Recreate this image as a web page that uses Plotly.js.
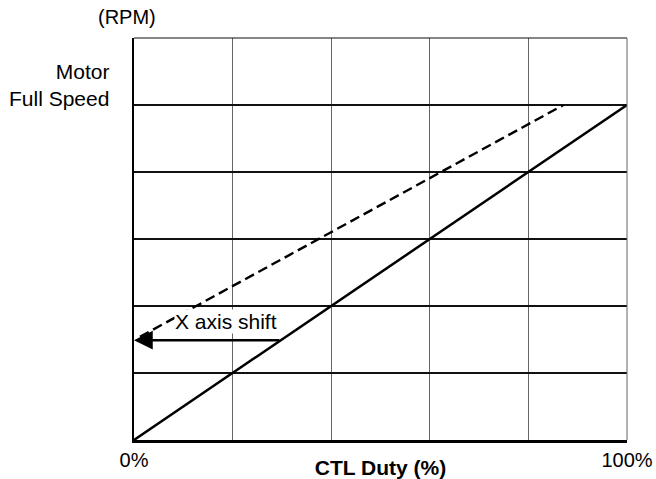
<!DOCTYPE html>
<html>
<head>
<meta charset="utf-8">
<script src="https://cdn.plot.ly/plotly-3.0.1.min.js"></script>
<style>html,body{margin:0;padding:0;background:#fff;}#chart{width:656px;height:479px;}</style>
</head>
<body>
<div id="chart"></div>
<script>
// Data
const xTicks = [0, 20, 40, 60, 80, 100];
const xTickText = ['0%', '', '', '', '', '100%'];
const yTicks = [0, 1, 2, 3, 4, 5, 6];
const fullSpeed = 5;

const solidX = [0, 100];
const solidY = [0, 5];

const dashedX = [1.2, 87.1];
const dashedY = [1.54, 5];

const shiftY = 1.49;
const shiftFrom = 29.8;
const shiftTo = 0;
const shiftLabel = 'X axis shift';
const shiftLabelPos = [18.7, 1.77];

const FONT = 'Liberation Sans, Arial, Helvetica, sans-serif';

const traces = [
  {x: solidX, y: solidY, mode: 'lines', line: {color: '#000', width: 2.5}, hoverinfo: 'skip'},
  {x: dashedX, y: dashedY, mode: 'lines', line: {color: '#000', width: 2.4, dash: '10px,5px'}, hoverinfo: 'skip'}
];

const layout = {
  width: 656, height: 479,
  margin: {l: 134, r: 29, t: 38, b: 39},
  paper_bgcolor: '#fff', plot_bgcolor: '#fff',
  showlegend: false,
  font: {family: FONT, size: 20, color: '#000'},
  xaxis: {
    range: [0, 100], tickvals: xTicks, ticktext: xTickText,
    showgrid: true, gridcolor: '#666', gridwidth: 1,
    zeroline: false, showline: true, linecolor: '#000', linewidth: 2.5,
    ticks: '', tickfont: {size: 20, family: FONT},
    title: {text: '<b>CTL Duty (%)</b>', font: {size: 21, family: FONT}, standoff: 0},
    fixedrange: true
  },
  yaxis: {
    range: [0, 6], tickvals: yTicks, showticklabels: false,
    showgrid: true, gridcolor: '#111', gridwidth: 1.2,
    zeroline: false, showline: true, linecolor: '#000', linewidth: 2.5,
    ticks: '', fixedrange: true
  },
  shapes: [
    {type: 'line', xref: 'paper', yref: 'paper', x0: 0, x1: 1, y0: 1, y1: 1, line: {color: '#111', width: 1.2}},
    {type: 'line', xref: 'paper', yref: 'paper', x0: 1, x1: 1, y0: 0, y1: 1, line: {color: '#666', width: 1}}
  ],
  annotations: [
    {x: shiftTo, y: shiftY, ax: shiftFrom, ay: shiftY, axref: 'x', ayref: 'y', xref: 'x', yref: 'y',
     text: '', showarrow: true, arrowhead: 2, arrowsize: 1.5, arrowwidth: 2.5, arrowcolor: '#000'},
    {x: shiftLabelPos[0], y: shiftLabelPos[1], xref: 'x', yref: 'y', text: shiftLabel, showarrow: false,
     bgcolor: '#fff', borderpad: 0, font: {size: 21, family: FONT}},
    {x: -0.046, y: fullSpeed, xref: 'paper', yref: 'y', xanchor: 'right', yanchor: 'bottom', align: 'right',
     text: 'Motor<br>Full Speed', showarrow: false, yshift: -7, font: {size: 21, family: FONT}},
    {x: -0.015, y: 1, xref: 'paper', yref: 'paper', xanchor: 'center', yanchor: 'bottom',
     text: '(RPM)', showarrow: false, yshift: 8, font: {size: 20, family: FONT}}
  ]
};

Plotly.newPlot('chart', traces, layout, {displayModeBar: false, staticPlot: true});
</script>
</body>
</html>
